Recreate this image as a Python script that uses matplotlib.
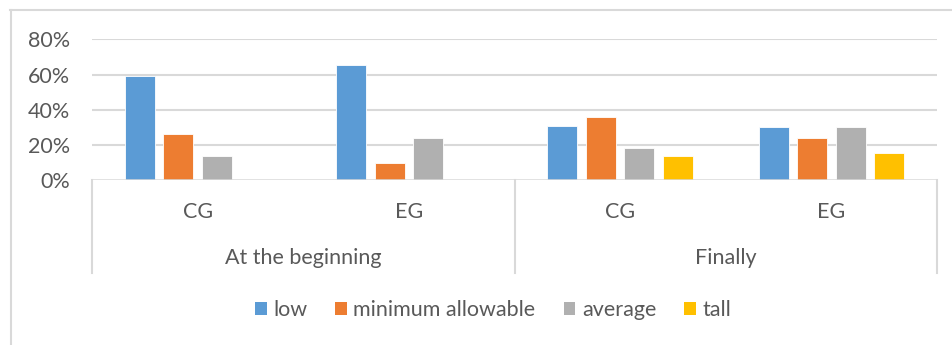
import matplotlib.pyplot as plt
from matplotlib.lines import Line2D
from matplotlib.patches import Patch
import numpy as np

# data
groups = ["At the beginning", "Finally"]
categories = ["CG", "EG", "CG", "EG"]
series = ["low", "minimum allowable", "average", "tall"]
low = [0.592, 0.654, 0.308, 0.301]
min_allowable = [0.261, 0.096, 0.357, 0.240]
average = [0.138, 0.240, 0.183, 0.301]
tall = [0.0, 0.0, 0.138, 0.155]
yticks = [0, 0.2, 0.4, 0.6, 0.8]

colors = ["#5B9BD5", "#ED7D31", "#B0B0B0", "#FFC000"]
text_col = "#595959"
grid_col = "#D9D9D9"
fs = 15.5

plt.rcParams['font.family'] = ['Lato', 'DejaVu Sans']

W, H = 952, 345
fig = plt.figure(figsize=(W / 100, H / 100), dpi=100)
left_px, right_px, top_px, bot_px = 92, 937, 39.3, 180.3
ax = fig.add_axes([left_px / W, 1 - bot_px / H,
                   (right_px - left_px) / W, (bot_px - top_px) / H])

values = [low, min_allowable, average, tall]
x = np.arange(len(categories)) + 0.5
slot = 0.182
width = 0.142
for i, (vals, name) in enumerate(zip(values, series)):
    ax.bar(x + (i - 1.5) * slot, vals, width, color=colors[i], label=name,
           edgecolor="white", linewidth=0.6, zorder=3)

ax.set_xlim(0, len(categories))
ax.set_ylim(0, 0.8)
ax.set_yticks(yticks)
ax.set_yticklabels([f"{int(round(v * 100))}%" for v in yticks],
                   fontsize=fs, color=text_col)
ax.tick_params(axis='y', length=0, pad=15.5)
ax.set_xticks([])
for s in ax.spines.values():
    s.set_visible(False)
for v in yticks[1:]:
    ax.axhline(v, color=grid_col, lw=1.5, zorder=1)
ax.axhline(0, color=grid_col, lw=1.8, zorder=4)

# multi-level category axis
axh = bot_px - top_px
y_line_end = -(273 - bot_px) / axh
trans = ax.get_xaxis_transform()
for xv in [0, 2, 4]:
    ax.plot([xv, xv], [0, y_line_end], color=grid_col, lw=1.5,
            transform=trans, clip_on=False)
for xv, lab in zip(x, categories):
    ax.text(xv, -(212 - bot_px) / axh, lab, transform=trans, ha='center',
            va='center', fontsize=fs, color=text_col)
for gi, g in enumerate(groups):
    ax.text(gi * 2 + 1, -(258 - bot_px) / axh, g, transform=trans,
            ha='center', va='center', fontsize=fs, color=text_col)

# chart border (partially visible)
fig.add_artist(Line2D([10 / W, 1], [1 - 10 / H, 1 - 10 / H],
                      transform=fig.transFigure, color=grid_col, lw=1.5))
fig.add_artist(Line2D([11 / W, 11 / W], [0, 1 - 10 / H],
                      transform=fig.transFigure, color=grid_col, lw=1.5))

handles = [Patch(facecolor=c, label=s) for c, s in zip(colors, series)]
fig.legend(handles=handles, loc='center', bbox_to_anchor=(493 / W, 1 - 310 / H),
           ncol=4, frameon=False, fontsize=fs, labelcolor=text_col,
           handlelength=0.55, handleheight=0.55, handletextpad=0.3,
           columnspacing=1.3)

fig.savefig("out.png", dpi=100)
